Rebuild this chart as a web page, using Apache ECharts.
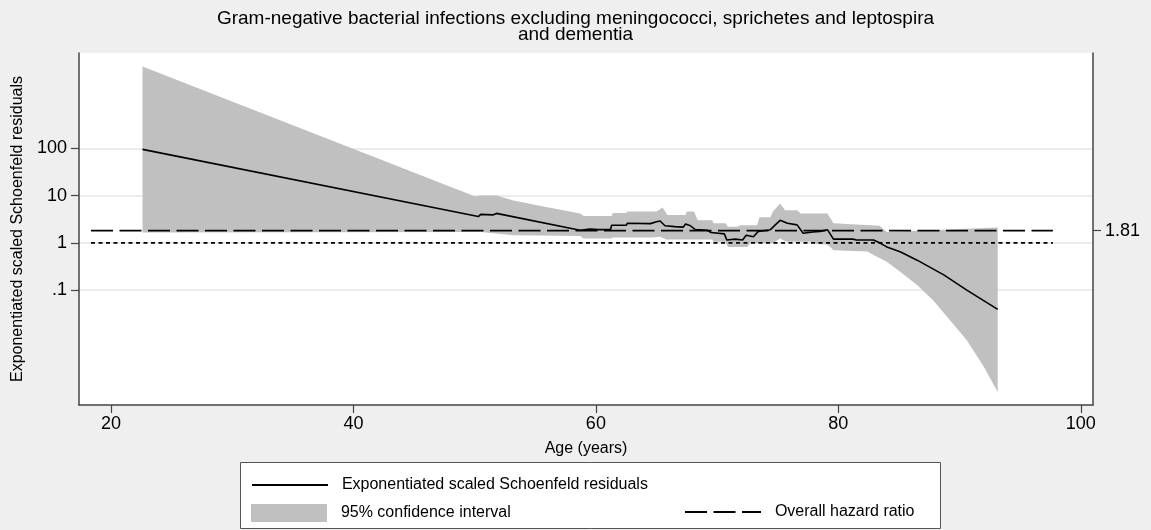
<!DOCTYPE html>
<html>
<head>
<meta charset="utf-8">
<script src="https://cdn.jsdelivr.net/npm/echarts@6/dist/echarts.min.js"></script>
<style>
  html, body { margin: 0; padding: 0; background: #efefef; }
  #chart { width: 1151px; height: 530px; }
</style>
</head>
<body>
<div id="chart"></div>
<script>
// exponentiated scaled Schoenfeld residuals (smoothed), by age
var lineAge = [22.6, 50.3, 50.5, 51.5, 51.8, 58.7, 59.5, 60.2, 61.2, 61.3, 62.5, 62.6, 64.5, 65.0, 65.3, 65.7,
  66.5, 67.2, 67.4, 67.8, 68.2, 69.2, 69.5, 70.6, 70.8, 71.5, 72.1, 72.4, 73.0, 73.4, 74.4, 74.8, 75.2, 75.8,
  76.6, 77.1, 77.9, 78.5, 79.1, 79.6, 81.2, 81.5, 82.9, 83.4, 84.0, 85.1, 86.5, 88.7, 90.6, 93.15];
var lineHr = [95, 3.6, 4.0, 3.9, 4.2, 1.85, 1.95, 1.9, 1.9, 2.35, 2.35, 2.6, 2.55, 2.8, 2.9, 2.3,
  2.2, 2.15, 2.5, 2.3, 1.9, 1.85, 1.65, 1.55, 1.15, 1.2, 1.15, 1.45, 1.35, 1.75, 1.9, 2.4, 3.0, 2.6,
  2.4, 1.6, 1.7, 1.75, 1.9, 1.2, 1.2, 1.15, 1.15, 1.0, 0.82, 0.65, 0.43, 0.21, 0.1, 0.039];

// 95% confidence interval, upper and lower edges
var ciUpperAge = [22.6, 50.0, 50.5, 51.8, 53.2, 55.9, 58.7, 59.0, 61.3, 61.4, 62.5, 62.6, 65.0, 65.5, 65.9,
  67.4, 67.5, 68.1, 68.4, 69.6, 69.7, 70.7, 70.9, 71.7, 71.9, 73.3, 73.5, 74.4, 74.6, 75.2, 75.6, 76.6,
  76.9, 79.1, 79.6, 83.4, 84.0, 93.15];
var ciUpper = [5400, 9.7, 10, 10, 7.9, 5.75, 4.2, 3.7, 3.7, 4.3, 4.3, 4.6, 4.6, 5.6, 3.9,
  3.9, 4.6, 4.6, 3.0, 3.0, 2.6, 2.6, 2.2, 2.2, 2.35, 2.35, 3.5, 3.5, 4.6, 6.8, 4.9, 4.9,
  4.2, 4.2, 2.6, 2.3, 1.7, 2.1];
var ciLowerAge = [22.6, 50.0, 50.5, 53.2, 58.7, 59.0, 61.3, 61.4, 64.6, 65.3, 65.8, 69.6, 69.7, 70.7, 70.9,
  72.5, 72.7, 74.6, 75.2, 75.7, 77.9, 78.1, 79.1, 79.6, 82.4, 82.9, 84.0, 85.1, 86.5, 87.8, 89.2, 90.6,
  92.0, 93.15];
var ciLower = [1.66, 1.7, 1.7, 1.45, 1.4, 1.23, 1.23, 1.29, 1.29, 1.35, 1.17, 1.17, 1.05, 1.05, 0.82,
  0.82, 0.98, 0.98, 1.23, 1.05, 1.05, 0.95, 0.92, 0.7, 0.66, 0.55, 0.4, 0.245, 0.129, 0.062, 0.0234, 0.0087,
  0.0024, 0.0007];

// overall hazard ratio and null reference
var hrAge = [18.35, 97.7];
var hrValue = 1.81;
var refValue = 1;

var xTicks = [20, 40, 60, 80, 100];
var yTicks = [0.1, 1, 10, 100];
var yTickLabels = ['.1', '1', '10', '100'];

var chart = echarts.init(document.getElementById('chart'));

var axisColor = '#444';
var font = 'Arial, "Liberation Sans", sans-serif';
var yMin = Math.pow(10, -3.431);
var yMax = Math.pow(10, 4.017);

function pairs(xs, ys) {
  return xs.map(function (x, i) {
    return [x, ys[i]];
  });
}

var yAxisCommon = {
  type: 'log',
  logBase: 10,
  min: yMin,
  max: yMax,
  axisLine: { show: true, lineStyle: { color: axisColor, width: 1.5 } },
  axisTick: { length: 8, lineStyle: { color: axisColor, width: 1.2 } },
  axisLabel: { color: '#000', fontSize: 18, fontFamily: font, margin: 12 }
};

var legendCommon = {
  padding: 0,
  itemWidth: 76,
  itemHeight: 18,
  formatter: '  {name}',
  textStyle: { fontSize: 16, color: '#000', fontFamily: font }
};

chart.setOption({
  backgroundColor: '#efefef',
  animation: false,
  textStyle: { fontFamily: font },
  title: {
    text: 'Gram-negative bacterial infections excluding meningococci, sprichetes and leptospira\nand dementia',
    left: 'center',
    top: 6,
    textStyle: { fontSize: 19, fontWeight: 'normal', color: '#000', lineHeight: 16, fontFamily: font }
  },
  grid: {
    left: 79,
    right: 58,
    top: 53,
    bottom: 125,
    show: true,
    backgroundColor: '#fff',
    borderWidth: 0
  },
  graphic: [
    {
      type: 'rect',
      left: 240,
      top: 462,
      shape: { width: 700, height: 66 },
      style: { fill: '#fff', stroke: '#555', lineWidth: 1 },
      z: 0
    }
  ],
  legend: [
    Object.assign({}, legendCommon, {
      data: ['Exponentiated scaled Schoenfeld residuals'],
      left: 251,
      top: 477,
      itemStyle: { opacity: 0 }
    }),
    Object.assign({}, legendCommon, {
      data: [{ name: '95% confidence interval', icon: 'rect' }],
      left: 251,
      top: 504
    }),
    Object.assign({}, legendCommon, {
      data: ['Overall hazard ratio'],
      left: 684,
      top: 504,
      itemStyle: { opacity: 0 }
    })
  ],
  xAxis: {
    type: 'value',
    min: 17.36,
    max: 101.01,
    name: 'Age (years)',
    nameLocation: 'middle',
    nameGap: 36,
    nameTextStyle: { fontSize: 16, color: '#000', fontFamily: font },
    axisLine: { show: true, onZero: false, lineStyle: { color: axisColor, width: 1.5 } },
    axisTick: { customValues: xTicks, length: 8, lineStyle: { color: axisColor, width: 1.2 } },
    axisLabel: { customValues: xTicks, color: '#000', fontSize: 18, fontFamily: font, margin: 10 },
    splitLine: { show: false }
  },
  yAxis: [
    Object.assign({}, yAxisCommon, {
      position: 'left',
      name: 'Exponentiated scaled Schoenfeld residuals',
      nameLocation: 'middle',
      nameGap: 51,
      nameTextStyle: { fontSize: 16, color: '#000', fontFamily: font },
      axisTick: Object.assign({ customValues: yTicks }, yAxisCommon.axisTick),
      axisLabel: Object.assign({
        customValues: yTicks,
        formatter: function (v) {
          for (var i = 0; i < yTicks.length; i++) {
            if (Math.abs(v - yTicks[i]) < 1e-9 * yTicks[i]) return yTickLabels[i];
          }
          return '';
        }
      }, yAxisCommon.axisLabel),
      splitLine: { show: true, lineStyle: { color: '#e6e6e6', width: 1.5 } }
    }),
    Object.assign({}, yAxisCommon, {
      position: 'right',
      axisTick: Object.assign({ customValues: [hrValue] }, yAxisCommon.axisTick),
      axisLabel: Object.assign({
        customValues: [hrValue],
        formatter: function () { return hrValue.toFixed(2); }
      }, yAxisCommon.axisLabel),
      splitLine: { show: false }
    })
  ],
  series: [
    {
      name: '95% confidence interval',
      type: 'custom',
      z: 1,
      itemStyle: { color: '#c0c0c0' },
      data: [[lineAge[0], lineHr[0]]],
      renderItem: function (params, api) {
        var pts = [];
        for (var i = 0; i < ciUpperAge.length; i++) {
          pts.push(api.coord([ciUpperAge[i], ciUpper[i]]));
        }
        for (var j = ciLowerAge.length - 1; j >= 0; j--) {
          pts.push(api.coord([ciLowerAge[j], ciLower[j]]));
        }
        return {
          type: 'polygon',
          shape: { points: pts },
          style: { fill: '#c0c0c0' }
        };
      }
    },
    {
      name: 'Reference',
      type: 'line',
      z: 2,
      symbol: 'none',
      silent: true,
      lineStyle: { color: '#000', width: 1.8, type: [4, 3.5] },
      data: hrAge.map(function (a) { return [a, refValue]; })
    },
    {
      name: 'Overall hazard ratio',
      type: 'line',
      z: 3,
      symbol: 'none',
      lineStyle: { color: '#000', width: 1.8, type: [22, 6.5] },
      data: hrAge.map(function (a) { return [a, hrValue]; })
    },
    {
      name: 'Exponentiated scaled Schoenfeld residuals',
      type: 'line',
      z: 4,
      symbol: 'none',
      lineStyle: { color: '#000', width: 1.6 },
      data: pairs(lineAge, lineHr)
    }
  ]
});
</script>
</body>
</html>
